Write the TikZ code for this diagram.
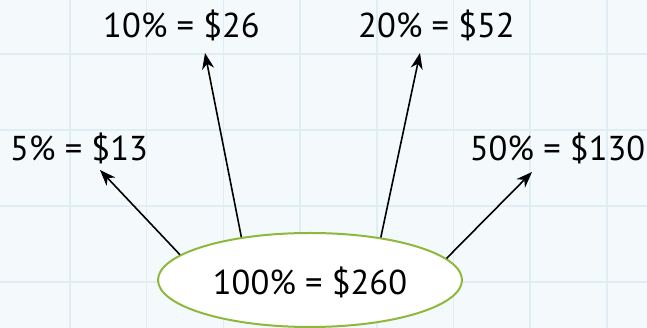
\documentclass[tikz,border=0pt]{standalone}
\usepackage{fontspec}
\setmainfont{PT Sans}
\usetikzlibrary{arrows.meta,shapes.geometric}
\definecolor{bgcol}{HTML}{F4FAFC}
\definecolor{gridcol}{HTML}{E0EDF2}
\definecolor{ellcol}{HTML}{8DB83C}
\tikzset{
  lbl/.style={anchor=base, inner sep=0pt, font=\fontsize{34.5}{40}\selectfont},
  arr/.style={line width=1.6pt, -{Stealth[length=16pt,width=12pt,inset=5pt]}},
  bubble/.style={ellipse, draw=ellcol, line width=2pt, fill=white, minimum width=304pt, minimum height=94pt, inner sep=0pt}
}
\begin{document}
\begin{tikzpicture}[x=1pt,y=1pt]
\useasboundingbox (0,0) rectangle (647,328);
\fill[bgcol] (0,0) rectangle (647,328);
\foreach \gx in {70,146.7,223.4,300.1,376.8,453.5,530.2,606.9}
  \draw[gridcol, line width=1.5pt] (\gx,0) -- (\gx,328);
\foreach \gy in {274,198,122,46}
  \draw[gridcol, line width=1.5pt] (0,\gy) -- (647,\gy);
\node[bubble] (c) at (310,48) {};
\node[lbl] (t100) at (310,33) {100\% = \$260};
\node[lbl] (t10) at (181.5,290) {10\% = \$26};
\node[lbl] (t20) at (436.5,290) {20\% = \$52};
\node[lbl] (t5) at (79,167) {5\% = \$13};
\node[lbl] (t50) at (557.5,167) {50\% = \$130};
\coordinate (p5) at (100,158);
\coordinate (p10) at (205,275);
\coordinate (p20) at (420,275);
\coordinate (p50) at (532,156);
\draw[arr] (c.169) -- (p5);
\draw[arr] (c.148) -- (p10);
\draw[arr] (c.31) -- (p20);
\draw[arr] (c.9) -- (p50);
\end{tikzpicture}
\end{document}
